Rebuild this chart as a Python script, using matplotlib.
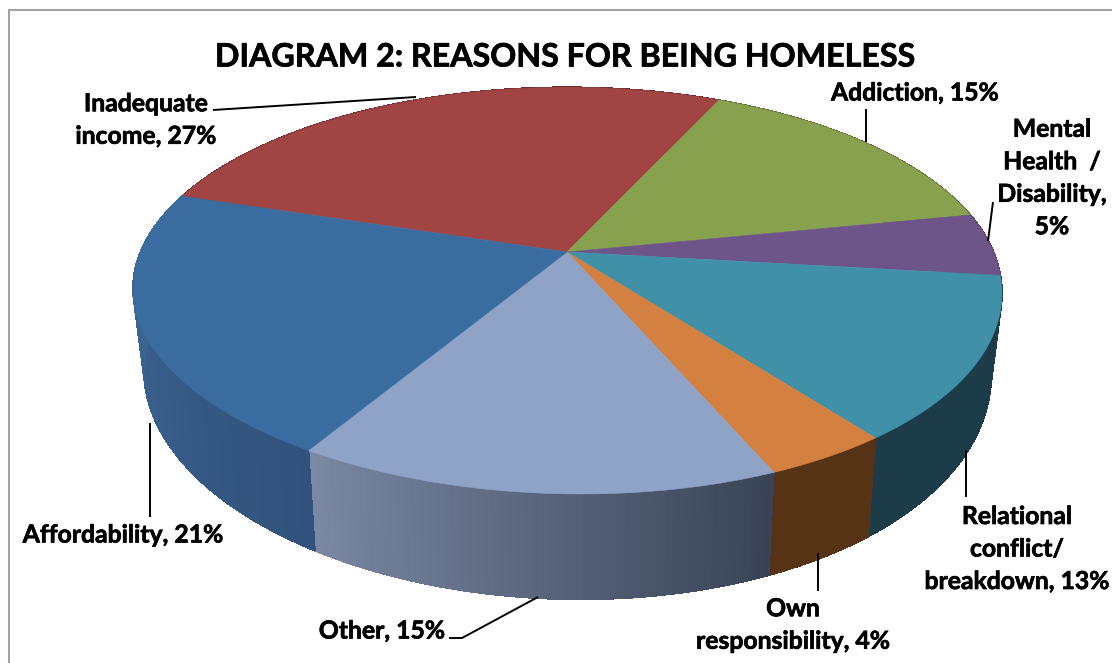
"""3D-style pie of reported reasons for homelessness, drawn with a perspective projection."""

import matplotlib
matplotlib.use("Agg")
import matplotlib.patheffects as pe
import matplotlib.pyplot as plt
import numpy as np
from matplotlib.collections import PolyCollection
from matplotlib.colors import to_rgb

plt.rcParams["font.family"] = ["Lato", "DejaVu Sans"]

TITLE = "DIAGRAM 2: REASONS FOR BEING HOMELESS"

categories = ["Inadequate income", "Addiction", "Mental Health / Disability",
              "Relational conflict/ breakdown", "Own responsibility", "Other",
              "Affordability"]
shares = [27, 15, 5, 13, 4, 15, 21]

top_colors = ["#A04444", "#87A14F", "#6E5589", "#4090A8", "#D38040", "#8FA3C7", "#3B6C9F"]
wall_from = ["#6E2E2E", "#5C6E35", "#4A395C", "#1B3C48", "#573316", "#394355", "#31527C"]
wall_to = ["#6E2E2E", "#5C6E35", "#4A395C", "#1B3C48", "#573316", "#7A88A4", "#406C9C"]

label_texts = ["Inadequate\nincome, 27%", "Addiction, 15%", "Mental\nHealth  /\nDisability,\n5%",
               "Relational\nconflict/\nbreakdown, 13%", "Own\nresponsibility, 4%", "Other, 15%",
               "Affordability, 21%"]
label_xy = [(146, 120), (915, 93), (1052, 178), (1017, 549), (793, 625), (382, 631), (123, 535)]
leaders = [
    [(213, 110), (416, 97)],
    [(866, 109), (866, 142)],
    [(993, 202), (988, 241)],
    [(966, 450), (966, 497)],
    [(818, 553), (818, 591)],
    [(449, 638), (462, 638), (538, 597)],
    [(150, 423), (150, 517)],
]

# projection of the unit disc onto the page, in pixels
CX, CY = 567.0, 252.0
A, B, K = 426.5, 196.0, 0.19
FRONT_LEAN = 14.0
START_DEG = -72.5
# the wall gets taller towards the viewer
WALL_BASE = 77.0
WALL_GROW = 1.117
BOTTOM_SCALE = 0.975


def top_xy(theta):
    u, v = np.sin(theta), np.cos(theta)
    d = 1 + K * v
    lean = FRONT_LEAN * np.minimum(v, 0) ** 2
    return CX + A * u / d + lean, CY - B * v / d


def bottom_xy(theta):
    x, y = top_xy(theta)
    return CX + (x - CX) * BOTTOM_SCALE, CY + WALL_BASE + (y - CY) * WALL_GROW


fig = plt.figure(figsize=(11.12, 6.63), dpi=100, facecolor="white")
ax = fig.add_axes([0, 0, 1, 1])
ax.set_xlim(0, 1112)
ax.set_ylim(663, 0)
ax.axis("off")

# chart frame, only its top and left sides fall inside the page
ax.plot([9, 9, 1112], [663, 10, 10], color="#A3A3A3", lw=1.5, solid_joinstyle="miter")

edges = np.radians(START_DEG + np.concatenate([[0], np.cumsum(shares)]) * 3.6)

# outer wall first, as thin strips so each slice can carry its shading
for i in range(len(shares)):
    ts = np.linspace(edges[i], edges[i + 1], max(8, shares[i] * 4))
    quads, cols = [], []
    c0, c1 = np.array(to_rgb(wall_from[i])), np.array(to_rgb(wall_to[i]))
    for j in range(len(ts) - 1):
        xa, ya = top_xy(ts[j])
        xb, yb = top_xy(ts[j + 1])
        xc, yc = bottom_xy(ts[j + 1])
        xd, yd = bottom_xy(ts[j])
        quads.append([(xa, ya), (xb, yb), (xc, yc), (xd, yd)])
        cols.append(c0 + (c1 - c0) * j / (len(ts) - 2))
    # no antialiasing here, it would leave seams between the strips
    ax.add_collection(PolyCollection(quads, facecolors=cols, edgecolors=cols, linewidths=0.6,
                                     antialiaseds=False))

# top face
for i in range(len(shares)):
    ts = np.linspace(edges[i], edges[i + 1], 120)
    xs, ys = top_xy(ts)
    ax.fill(np.r_[CX, xs], np.r_[CY, ys], color=top_colors[i], lw=0.4)

for pts in leaders:
    xs, ys = zip(*pts)
    ax.plot(xs, ys, color="black", lw=1.4, solid_capstyle="butt")

# Lato bold runs a little light, so thicken the glyphs with a hairline stroke
heavy = [pe.withStroke(linewidth=0.5, foreground="black")]

for txt, (x, y) in zip(label_texts, label_xy):
    ax.text(x, y, txt, fontsize=17.8, fontweight="bold", color="black",
            ha="center", va="center", linespacing=1.5, path_effects=heavy)

ax.text(566, 57, TITLE, fontsize=23.2, fontweight="bold", color="black", ha="center", va="center",
        path_effects=heavy)

fig.savefig("out.png", dpi=100, facecolor="white")
